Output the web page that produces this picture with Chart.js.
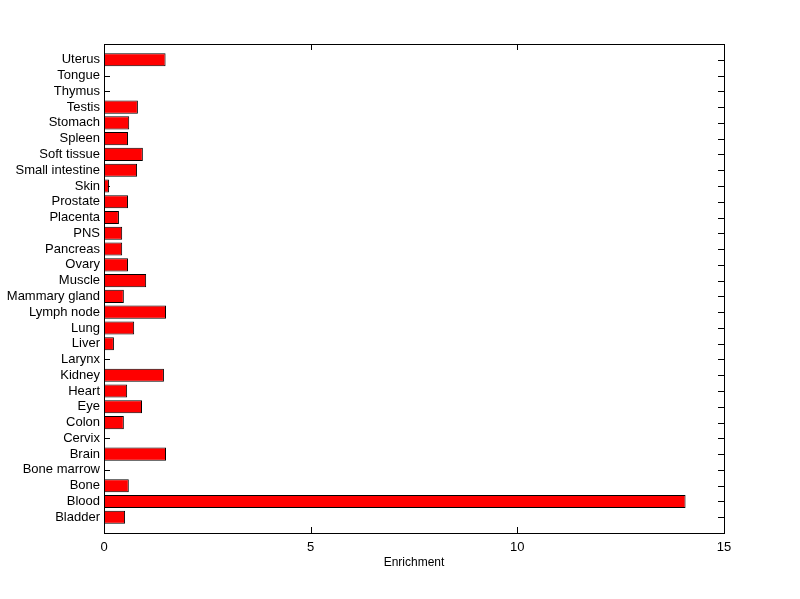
<!DOCTYPE html>
<html>
<head>
<meta charset="utf-8">
<script src="https://cdn.jsdelivr.net/npm/chart.js@4/dist/chart.umd.min.js"></script>
<style>
  body { margin: 0; background: #fff; }
  #bars { display: block; }
</style>
</head>
<body>
<canvas id="bars" width="800" height="599"></canvas>
<script>
// tissues, top to bottom as shown
const tissues = ['Uterus', 'Tongue', 'Thymus', 'Testis', 'Stomach', 'Spleen', 'Soft tissue',
  'Small intestine', 'Skin', 'Prostate', 'Placenta', 'PNS', 'Pancreas', 'Ovary', 'Muscle',
  'Mammary gland', 'Lymph node', 'Lung', 'Liver', 'Larynx', 'Kidney', 'Heart', 'Eye', 'Colon',
  'Cervix', 'Brain', 'Bone marrow', 'Bone', 'Blood', 'Bladder'];
const enrichment = [1.49, 0, 0, 0.82, 0.61, 0.58, 0.94,
  0.80, 0.12, 0.58, 0.36, 0.44, 0.44, 0.58, 1.02,
  0.48, 1.50, 0.73, 0.24, 0, 1.45, 0.56, 0.92, 0.48,
  0, 1.50, 0, 0.60, 14.07, 0.51];
const xTicks = [0, 5, 10, 15];

const fontFam = '"Liberation Sans", Arial, sans-serif';

// inward tick marks on all four sides (under the bars)
const inwardTicks = {
  id: 'inwardTicks',
  beforeDatasetsDraw(chart) {
    const { ctx, chartArea: a, scales } = chart;
    const len = 6;
    ctx.save();
    ctx.strokeStyle = '#000';
    ctx.lineWidth = 1;
    ctx.beginPath();
    scales.y.ticks.forEach((t, i) => {
      const y = Math.round(scales.y.getPixelForTick(i)) + 0.5;
      ctx.moveTo(a.left, y); ctx.lineTo(a.left + len, y);
      ctx.moveTo(a.right, y); ctx.lineTo(a.right - len, y);
    });
    scales.x.ticks.forEach((t, i) => {
      const x = Math.round(scales.x.getPixelForTick(i)) + 0.5;
      ctx.moveTo(x, a.bottom); ctx.lineTo(x, a.bottom - len);
      ctx.moveTo(x, a.top); ctx.lineTo(x, a.top + len);
    });
    ctx.stroke();
    ctx.restore();
  },
  afterDraw(chart) {
    const { ctx, chartArea: a } = chart;
    ctx.save();
    ctx.strokeStyle = '#000';
    ctx.lineWidth = 1;
    ctx.strokeRect(Math.round(a.left) + 0.5, Math.round(a.top) + 0.5,
      Math.round(a.right - a.left), Math.round(a.bottom - a.top));
    ctx.restore();
  }
};

new Chart(document.getElementById('bars'), {
  type: 'bar',
  data: {
    labels: tissues,
    datasets: [{
      data: enrichment,
      backgroundColor: '#ff0000',
      borderColor: '#000',
      borderWidth: 1,
      borderSkipped: false,
      barPercentage: 0.83,
      categoryPercentage: 1.0
    }]
  },
  options: {
    indexAxis: 'y',
    responsive: false,
    animation: false,
    layout: { padding: { left: 0, top: 44, right: 76, bottom: 0 } },
    plugins: { legend: { display: false }, tooltip: { enabled: false } },
    scales: {
      x: {
        min: 0,
        max: 15,
        afterBuildTicks: s => { s.ticks = xTicks.map(v => ({ value: v })); },
        afterFit: s => { s.height = 66; },
        grid: { display: false, drawTicks: false },
        border: { display: false },
        ticks: { color: '#000', padding: 7, font: { family: fontFam, size: 13 } },
        title: { display: true, text: 'Enrichment', color: '#000', padding: { top: 4, bottom: 29 },
          font: { family: fontFam, size: 12 } }
      },
      y: {
        // leave a full empty slot above the first and below the last bar
        afterBuildTicks: s => { s._startValue = -1; s._valueRange = tissues.length + 1; },
        afterFit: s => { s.width = 104; },
        grid: { display: false, drawTicks: false },
        border: { display: false },
        ticks: { color: '#000', padding: 4, autoSkip: false, font: { family: fontFam, size: 13 } }
      }
    }
  },
  plugins: [inwardTicks]
});
</script>
</body>
</html>
